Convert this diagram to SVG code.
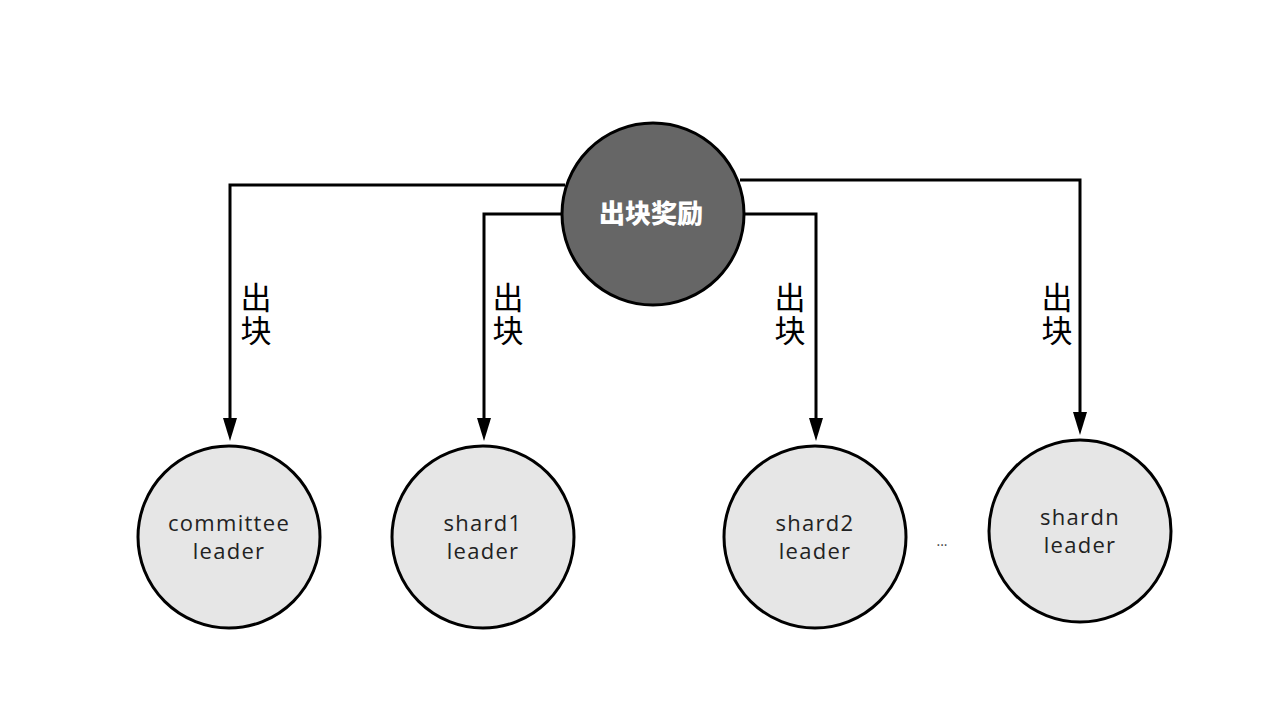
<svg xmlns="http://www.w3.org/2000/svg" width="1280" height="720" viewBox="0 0 1280 720">
<defs>
<style>
.leaf{fill:#e6e6e6;stroke:#000;stroke-width:3}
.lt{font-family:"Open Sans","DejaVu Sans",sans-serif;font-size:22px;letter-spacing:1.3px;fill:#222;text-anchor:middle}
.edge{fill:none;stroke:#000;stroke-width:3}
.head{fill:#000}
.lab{font-family:"Noto Sans CJK SC",sans-serif;font-size:31px;fill:#000;writing-mode:vertical-rl;letter-spacing:2px}
</style>
</defs>
<rect width="1280" height="720" fill="#fff"/>
<g id="connectors">
<path class="edge" d="M565,185 H230 V420"/>
<path class="head" d="M223,418 L237,418 L230,441 Z"/>
<path class="edge" d="M562,214 H484 V420"/>
<path class="head" d="M477,418 L491,418 L484,441 Z"/>
<path class="edge" d="M744,214 H816 V420"/>
<path class="head" d="M809,418 L823,418 L816,441 Z"/>
<path class="edge" d="M740,180 H1080 V414"/>
<path class="head" d="M1073,412 L1087,412 L1080,435 Z"/>
<text class="lab" x="256" y="282">出块</text>
<text class="lab" x="508" y="282">出块</text>
<text class="lab" x="790" y="282">出块</text>
<text class="lab" x="1057" y="282">出块</text>
</g>
<g id="reward">
<circle cx="653" cy="214" r="91" fill="#666" stroke="#000" stroke-width="3"/>
<text x="651" y="223" font-family="Noto Sans CJK SC,sans-serif" font-weight="900" font-size="26" fill="#fff" text-anchor="middle">出块奖励</text>
</g>
<g id="committee">
<circle class="leaf" cx="229" cy="537" r="91"/>
<text class="lt" x="229" y="531">committee</text>
<text class="lt" x="229" y="559">leader</text>
</g>
<g id="shard1">
<circle class="leaf" cx="483" cy="537" r="91"/>
<text class="lt" x="483" y="531">shard1</text>
<text class="lt" x="483" y="559">leader</text>
</g>
<g id="shard2">
<circle class="leaf" cx="815" cy="537" r="91"/>
<text class="lt" x="815" y="531">shard2</text>
<text class="lt" x="815" y="559">leader</text>
</g>
<g id="ellipsis">
<text x="942" y="546" font-family="Open Sans,sans-serif" font-size="14" fill="#444" text-anchor="middle">...</text>
</g>
<g id="shardn">
<circle class="leaf" cx="1080" cy="531" r="91"/>
<text class="lt" x="1080" y="525">shardn</text>
<text class="lt" x="1080" y="553">leader</text>
</g>
</svg>
